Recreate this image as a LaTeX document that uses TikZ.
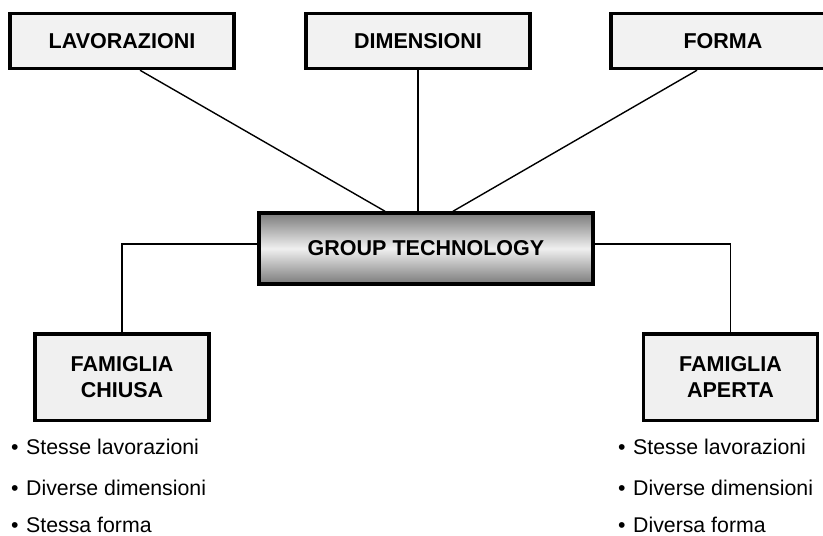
\documentclass[tikz,border=0pt]{standalone}
\usepackage{fontspec}
\setmainfont{Liberation Sans}
\begin{document}
\begin{tikzpicture}[x=1pt,y=-1pt,
  box/.style={draw=black, line width=3.5pt, fill=black!5, inner sep=0pt,
    font=\bfseries\fontsize{21.5}{26}\selectfont, align=center},
  topbox/.style={box, minimum width=224pt, minimum height=55pt},
  famiglia/.style={box, fill=black!6, minimum width=174pt, minimum height=86.5pt},
  link/.style={draw=black, line width=1.4pt},
  item/.style={anchor=base west, inner sep=0pt, font=\fontsize{21.3}{25}\selectfont}]
  \useasboundingbox (0,0) rectangle (823,536);
  \clip (0,0) rectangle (823,536);

  % criteria boxes along the top
  \node[topbox] (lav) at (122,41) {LAVORAZIONI};
  \node[topbox] (dim) at (418,41) {DIMENSIONI};
  \node[topbox] (for) at (723,41) {FORMA};

  % central concept with a metallic shading
  \node[box, minimum width=334pt, minimum height=71pt,
        top color=black!52, bottom color=black!52, middle color=black!6]
        (gt) at (426,248.5) {GROUP TECHNOLOGY};

  % the two families
  \node[famiglia] (fc) at (122,377) {FAMIGLIA\\CHIUSA};
  \node[famiglia] (fa) at (730.5,377) {FAMIGLIA\\APERTA};

  % connectors
  \draw[link] ([xshift=18pt]lav.south) -- ([xshift=-41pt]gt.north);
  \draw[link] (dim.south) -- ([xshift=-8pt]gt.north);
  \draw[link] ([xshift=-26pt]for.south) -- ([xshift=27pt]gt.north);
  \draw[link] ([yshift=4.5pt]gt.west) -| (fc.north);
  \draw[link] ([yshift=4.5pt]gt.east) -| (fa.north);

  % properties of each family
  \newcommand\pt[1]{\textbullet\hspace{7.5pt}#1}
  \node[item] (c1) at (11,454) {\pt{Stesse lavorazioni}};
  \node[item] (c2) at (11,495) {\pt{Diverse dimensioni}};
  \node[item] (c3) at (11,532) {\pt{Stessa forma}};
  \node[item] (a1) at (618,454) {\pt{Stesse lavorazioni}};
  \node[item] (a2) at (618,495) {\pt{Diverse dimensioni}};
  \node[item] (a3) at (618,532) {\pt{Diversa forma}};
\end{tikzpicture}
\end{document}
